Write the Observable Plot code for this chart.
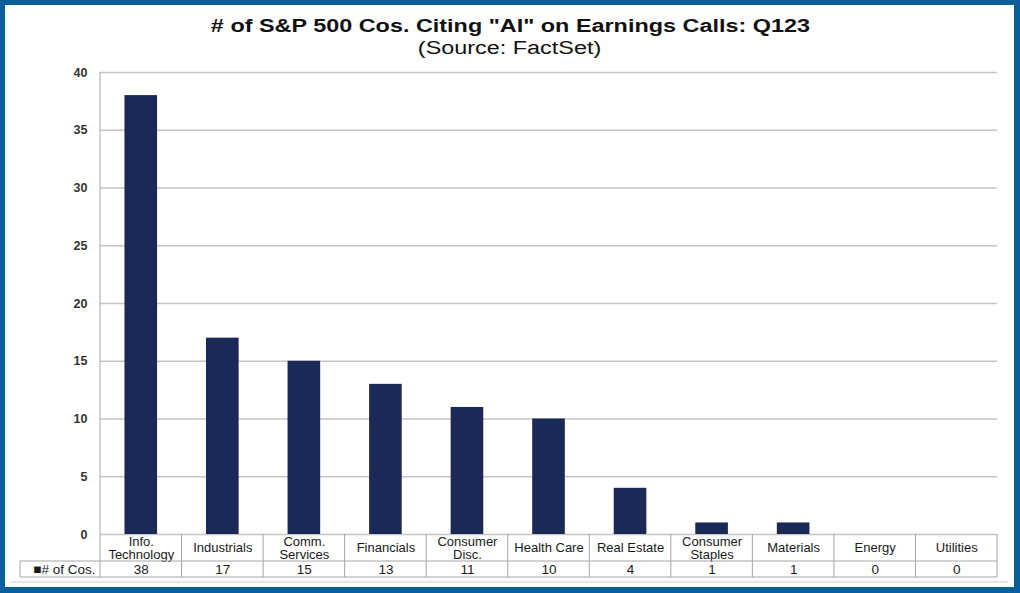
<!DOCTYPE html>
<html>
<head>
<meta charset="utf-8">
<script src="https://cdn.jsdelivr.net/npm/d3@7"></script>
<script src="https://cdn.jsdelivr.net/npm/@observablehq/plot@0.6"></script>
<style>
  html, body { margin: 0; padding: 0; background: #ffffff; }
  #page { position: relative; width: 1020px; height: 593px; background: #ffffff; overflow: hidden; font-family: "Liberation Sans", Arial, sans-serif; }
  #frame { position: absolute; left: 0; top: 0; width: 1020px; height: 593px; box-sizing: border-box;
           border-style: solid; border-color: #0b5d9b; border-width: 5px 6px 6px 5px; pointer-events: none; }
  #titles { position: absolute; left: 0; top: 15px; width: 1020px; text-align: center; color: #111; }
  #titles span { display: inline-block; transform: scaleX(1.3); transform-origin: center; white-space: nowrap; }
  #title { font-size: 18px; font-weight: bold; line-height: 22px; }
  #subtitle { font-size: 18px; line-height: 22px; }
  #chart { position: absolute; left: 0; top: 60px; }
</style>
</head>
<body>
<div id="page">
  <div id="titles">
    <div id="title"><span># of S&amp;P 500 Cos. Citing "AI" on Earnings Calls: Q123</span></div>
    <div id="subtitle"><span>(Source: FactSet)</span></div>
  </div>
  <div id="chart"></div>
  <div id="frame"></div>
</div>
<script>
// ---- data ----
const categories = ["Info. Technology", "Industrials", "Comm. Services", "Financials", "Consumer Disc.",
  "Health Care", "Real Estate", "Consumer Staples", "Materials", "Energy", "Utilities"];
const categoryLabels = ["Info.\nTechnology", "Industrials", "Comm.\nServices", "Financials", "Consumer\nDisc.",
  "Health Care", "Real Estate", "Consumer\nStaples", "Materials", "Energy", "Utilities"];
const counts = [38, 17, 15, 13, 11, 10, 4, 1, 1, 0, 0];
const seriesName = "# of Cos.";
const yTicks = [0, 5, 10, 15, 20, 25, 30, 35, 40];

const data = categories.map((c, i) => ({category: c, label: categoryLabels[i], count: counts[i]}));

const barColor = "#1a2955";
const tableStroke = "#a6a6a6";

const plot = Plot.plot({
  width: 1020,
  height: 530,
  marginTop: 12,
  marginBottom: 56,
  marginLeft: 100,
  marginRight: 23,
  style: {fontFamily: "'Liberation Sans', Arial, sans-serif", fontSize: "12px", color: "#222", background: "transparent"},
  x: {domain: categories, paddingInner: 0.6, paddingOuter: 0.3, round: false, axis: null},
  y: {domain: [0, 40], axis: null},
  marks: [
    Plot.gridY(yTicks, {stroke: "#c6c6c6", strokeOpacity: 1, strokeWidth: 1.5}),
    Plot.axisY({ticks: yTicks, tickSize: 0, tickPadding: 13, fontSize: 12.5, fontWeight: "bold", fill: "#333", label: null}),
    Plot.barY(data, {x: "category", y: "count", fill: barColor}),
    Plot.text(data, {x: "category", text: "label", frameAnchor: "bottom", dy: 13.5, lineAnchor: "middle",
      lineHeight: 1.0, fontSize: 13, fill: "#1a1a1a"}),
    Plot.text(data, {x: "category", text: d => String(d.count), frameAnchor: "bottom", dy: 35,
      lineAnchor: "middle", fontSize: 13.5, fill: "#1a1a1a"}),
    Plot.text([seriesName], {text: d => "\u25A0" + d, frameAnchor: "bottom-left", dx: -5, dy: 35,
      textAnchor: "end", lineAnchor: "middle", fontSize: 13.5, fill: "#1a1a1a"})
  ]
});

document.getElementById("chart").appendChild(plot);

// ---- table grid and axis line, positioned from the plot's own scales ----
const xs = plot.scale("x");
const ys = plot.scale("y");
const step = xs.apply(categories[1]) - xs.apply(categories[0]);
const bw = xs.bandwidth != null ? xs.bandwidth : 0;
const firstEdge = xs.apply(categories[0]) + bw / 2 - step / 2;
const edges = d3.range(categories.length + 1).map(k => firstEdge + k * step);
const y0 = ys.apply(0);
const yTop = ys.apply(40);
const row1 = y0 + 27;
const row2 = y0 + 43;
const legendLeft = 20;

const svg = d3.select(plot);
const g = svg.append("g").attr("stroke", tableStroke).attr("stroke-width", 1).attr("fill", "none");
// left axis line
g.append("line").attr("x1", edges[0]).attr("x2", edges[0]).attr("y1", yTop).attr("y2", y0);
// vertical cell borders
edges.forEach(x => g.append("line").attr("x1", x).attr("x2", x).attr("y1", y0).attr("y2", row2));
g.append("line").attr("x1", legendLeft).attr("x2", legendLeft).attr("y1", row1).attr("y2", row2);
// horizontal cell borders
[row1, row2].forEach(y => g.append("line").attr("x1", legendLeft).attr("x2", edges[edges.length - 1]).attr("y1", y).attr("y2", y));
// faint chart-area bottom line
svg.append("line").attr("x1", 10).attr("x2", 1008).attr("y1", row2 + 5).attr("y2", row2 + 5)
  .attr("stroke", "#dcdcdc").attr("stroke-width", 1.5);
</script>
</body>
</html>
